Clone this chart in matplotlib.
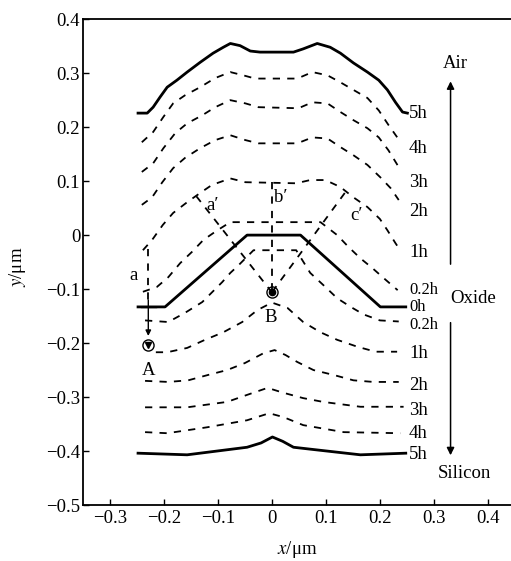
import matplotlib
matplotlib.use('Agg')
import matplotlib.pyplot as plt

plt.rcParams['font.family'] = ['Liberation Serif', 'DejaVu Serif']
plt.rcParams['mathtext.fontset'] = 'stix'

# oxide surfaces above the initial interface (towards air)
up5_x = [-0.248, -0.231, -0.22, -0.207, -0.194, -0.176, -0.157, -0.133, -0.109, -0.09, -0.077, -0.059, -0.04,
         -0.022, 0.04, 0.058, 0.084, 0.108, 0.127, 0.151, 0.177, 0.198, 0.214, 0.229, 0.242, 0.251]
up5_y = [0.226, 0.226, 0.237, 0.256, 0.274, 0.287, 0.302, 0.32, 0.337, 0.348, 0.355, 0.351, 0.341,
         0.339, 0.339, 0.345, 0.355, 0.348, 0.337, 0.319, 0.302, 0.287, 0.269, 0.246, 0.228, 0.226]
up4_x = [-0.241, -0.22, -0.201, -0.183, -0.161, -0.133, -0.105, -0.077, -0.053, -0.031, 0.047, 0.075, 0.103,
         0.127, 0.151, 0.177, 0.198, 0.216, 0.233]
up4_y = [0.172, 0.191, 0.219, 0.244, 0.259, 0.274, 0.291, 0.302, 0.296, 0.29, 0.29, 0.302, 0.296,
         0.283, 0.269, 0.254, 0.231, 0.204, 0.18]
up3_x = [-0.241, -0.22, -0.201, -0.179, -0.157, -0.129, -0.105, -0.077, -0.049, -0.025, 0.049, 0.075, 0.103,
         0.127, 0.151, 0.177, 0.198, 0.216, 0.235]
up3_y = [0.117, 0.133, 0.161, 0.189, 0.207, 0.222, 0.237, 0.25, 0.244, 0.237, 0.235, 0.246, 0.244,
         0.228, 0.213, 0.198, 0.181, 0.157, 0.126]
up2_x = [-0.241, -0.222, -0.203, -0.183, -0.161, -0.133, -0.105, -0.077, -0.049, -0.025, 0.047, 0.075, 0.103,
         0.127, 0.151, 0.177, 0.201, 0.22, 0.235]
up2_y = [0.056, 0.07, 0.098, 0.124, 0.143, 0.161, 0.176, 0.185, 0.176, 0.17, 0.17, 0.181, 0.179,
         0.163, 0.148, 0.13, 0.107, 0.087, 0.065]
up1_x = [-0.239, -0.222, -0.202, -0.183, -0.157, -0.133, -0.111, -0.077, -0.049, 0.045, 0.071, 0.099,
         0.127, 0.151, 0.177, 0.2, 0.214, 0.229, 0.235]
up1_y = [-0.028, -0.009, 0.019, 0.041, 0.061, 0.078, 0.093, 0.105, 0.098, 0.096, 0.102, 0.102,
         0.089, 0.07, 0.052, 0.03, 0.009, -0.015, -0.024]
up02_x = [-0.239, -0.213, -0.192, -0.170, -0.148, -0.127, -0.101, -0.077, 0.09, 0.121, 0.142, 0.164,
          0.186, 0.211, 0.233]
up02_y = [-0.105, -0.096, -0.078, -0.052, -0.031, -0.009, 0.009, 0.024, 0.024, 0.0, -0.022, -0.043,
          -0.061, -0.083, -0.102]

# initial interface
h0_x = [-0.248, -0.198, -0.046, 0.053, 0.201, 0.248]
h0_y = [-0.133, -0.133, 0.0, 0.0, -0.133, -0.133]

# interfaces below (towards silicon)
lo02_x = [-0.235, -0.192, -0.161, -0.129, -0.111, -0.092, -0.077, -0.062, -0.034, 0.045, 0.071, 0.099,
          0.121, 0.146, 0.17, 0.2, 0.235]
lo02_y = [-0.158, -0.161, -0.144, -0.124, -0.106, -0.087, -0.07, -0.056, -0.028, -0.028, -0.07, -0.096,
          -0.117, -0.133, -0.147, -0.158, -0.16]
lo1_x = [-0.215, -0.194, -0.157, -0.124, -0.09, -0.055, -0.027, 0.0, 0.029, 0.058, 0.09, 0.121,
         0.159, 0.192, 0.232]
lo1_y = [-0.217, -0.217, -0.209, -0.194, -0.18, -0.161, -0.139, -0.125, -0.135, -0.161, -0.18, -0.194,
         -0.207, -0.216, -0.216]
lo2_x = [-0.235, -0.192, -0.155, -0.118, -0.083, -0.05, -0.016, 0.005, 0.025, 0.047, 0.077, 0.114,
         0.151, 0.188, 0.235]
lo2_y = [-0.27, -0.272, -0.269, -0.259, -0.25, -0.237, -0.219, -0.213, -0.222, -0.235, -0.25, -0.259,
         -0.269, -0.272, -0.272]
lo3_x = [-0.235, -0.157, -0.083, -0.046, -0.008, 0.021, 0.058, 0.095, 0.164, 0.244]
lo3_y = [-0.319, -0.319, -0.309, -0.296, -0.283, -0.292, -0.302, -0.309, -0.318, -0.318]
lo4_x = [-0.235, -0.194, -0.12, -0.046, -0.005, 0.021, 0.058, 0.133, 0.238]
lo4_y = [-0.365, -0.367, -0.356, -0.343, -0.33, -0.337, -0.352, -0.365, -0.367]
lo5_x = [-0.248, -0.157, -0.046, -0.02, 0.001, 0.02, 0.04, 0.084, 0.164, 0.248]
lo5_y = [-0.404, -0.407, -0.393, -0.385, -0.374, -0.382, -0.393, -0.398, -0.407, -0.404]

time_labels = ['5h', '4h', '3h', '2h', '1h', '0.2h', '0h', '0.2h', '1h', '2h', '3h', '4h', '5h']
label_y = [0.226, 0.161, 0.098, 0.043, -0.032, -0.101, -0.134, -0.167, -0.219, -0.278, -0.324, -0.367, -0.407]

# tracked points
point_A = (-0.229, -0.204)
point_B = (0.0, -0.106)
a_top = (-0.229, -0.026)
a_prime = (-0.14, 0.072)
b_prime = (0.0, 0.098)
c_prime = (0.135, 0.078)

fig = plt.figure(figsize=(5.11, 5.61), dpi=100)
ax = fig.add_axes([0.1624, 0.0998, 0.845, 0.866])

dash = (0, (4, 4))
solid_lw = 2.0
dash_lw = 1.3
fs = 13.5

ax.plot(up5_x, up5_y, color='black', lw=solid_lw)
for xs, ys in [(up4_x, up4_y), (up3_x, up3_y), (up2_x, up2_y), (up1_x, up1_y), (up02_x, up02_y),
               (lo02_x, lo02_y), (lo1_x, lo1_y), (lo2_x, lo2_y), (lo3_x, lo3_y), (lo4_x, lo4_y)]:
    ax.plot(xs, ys, color='black', lw=dash_lw, linestyle=dash)
ax.plot(h0_x, h0_y, color='black', lw=solid_lw)
ax.plot(lo5_x, lo5_y, color='black', lw=solid_lw)

# time labels at the right end of the curves (the three near the interface sit close together)
for i, (lab, yy) in enumerate(zip(time_labels, label_y)):
    size = 12 if i in (5, 6, 7) else fs
    ax.text(0.254, yy, lab, fontsize=size, va='center', ha='left')

# trajectories of points a -> A and a', b', c' -> B
ax.plot([a_top[0], a_top[0]], [a_top[1], -0.12], color='black', lw=dash_lw, linestyle=dash)
ax.annotate('', xy=(point_A[0], point_A[1] + 0.012), xytext=(a_top[0], -0.115),
            arrowprops=dict(arrowstyle='-|>', color='black', lw=1.0, mutation_scale=8))
ax.plot([-0.242, -0.215], [-0.133, -0.133], color='black', lw=1.0)
for px, py in [a_prime, b_prime, c_prime]:
    ax.plot([px, point_B[0]], [py, point_B[1]], color='black', lw=dash_lw, linestyle=dash)
ax.plot(*point_A, marker='o', ms=8, mfc='none', mec='black', mew=1.0)
ax.plot(*point_A, marker='v', ms=5, color='black')
ax.plot(*point_B, marker='o', ms=8, mfc='none', mec='black', mew=1.0)
ax.plot(*point_B, marker='o', ms=4.5, color='black')

ax.text(-0.228, -0.25, 'A', fontsize=fs, ha='center', va='center')
ax.text(-0.003, -0.152, 'B', fontsize=fs, ha='center', va='center')
ax.text(-0.256, -0.074, 'a', fontsize=fs, ha='center', va='center')
ax.text(-0.11, 0.054, "a\u2032", fontsize=fs, ha='center', va='center')
ax.text(0.016, 0.07, "b\u2032", fontsize=fs, ha='center', va='center')
ax.text(0.156, 0.037, "c\u2032", fontsize=fs, ha='center', va='center')

# region arrows
ax.annotate('', xy=(0.331, 0.29), xytext=(0.331, -0.059),
            arrowprops=dict(arrowstyle='-|>', color='black', lw=1.1, mutation_scale=11))
ax.annotate('', xy=(0.331, -0.413), xytext=(0.331, -0.157),
            arrowprops=dict(arrowstyle='-|>', color='black', lw=1.1, mutation_scale=11))
ax.text(0.339, 0.317, 'Air', fontsize=fs, ha='center', va='center')
ax.text(0.331, -0.117, 'Oxide', fontsize=fs, ha='left', va='center')
ax.text(0.356, -0.442, 'Silicon', fontsize=fs, ha='center', va='center')

ax.set_xlim(-0.35, 0.45)
ax.set_ylim(-0.5, 0.4)
ax.set_xticks([-0.3, -0.2, -0.1, 0, 0.1, 0.2, 0.3, 0.4])
ax.set_xticklabels(['\u22120.3', '\u22120.2', '\u22120.1', '0', '0.1', '0.2', '0.3', '0.4'])
ax.set_yticks([-0.5, -0.4, -0.3, -0.2, -0.1, 0, 0.1, 0.2, 0.3, 0.4])
ax.set_yticklabels(['\u22120.5', '\u22120.4', '\u22120.3', '\u22120.2', '\u22120.1', '0',
                    '0.1', '0.2', '0.3', '0.4'])
ax.tick_params(direction='in', length=4, width=1.0, labelsize=fs)
ax.tick_params(axis='y', pad=2)
ax.spines['right'].set_visible(False)
for s in ['left', 'bottom', 'top']:
    ax.spines[s].set_linewidth(1.3)

fig.text(297 / 511, 1 - 550 / 561, '$x$/\u03bcm', fontsize=fs, ha='center', va='center')
fig.text(17 / 511, 1 - 267 / 561, '$y$/\u03bcm', fontsize=fs, ha='center', va='center', rotation=90)

fig.savefig('out.png', dpi=100)
